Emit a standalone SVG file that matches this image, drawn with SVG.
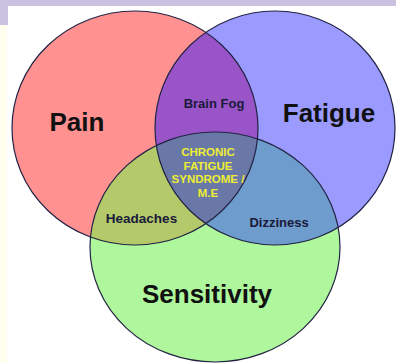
<svg xmlns="http://www.w3.org/2000/svg" width="396" height="363" viewBox="0 0 396 363">
<style>
.big{font-family:"Liberation Sans",Arial,sans-serif;font-weight:bold;font-size:26px;fill:#111;text-anchor:middle}
.mid{font-family:"Liberation Sans",Arial,sans-serif;font-weight:bold;font-size:13px;fill:#1a1a3a;text-anchor:middle}
.cfs{font-family:"Liberation Sans",Arial,sans-serif;font-weight:bold;font-size:11.5px;fill:#eeee33;text-anchor:middle}
.edge{fill:none;stroke:#222244;stroke-width:1.2}
</style>
<defs>
<ellipse id="eR" cx="135" cy="128" rx="123" ry="117"/>
<ellipse id="eB" cx="275" cy="128" rx="120" ry="117"/>
<ellipse id="eG" cx="215" cy="247" rx="125" ry="115"/>
<clipPath id="cR"><use href="#eR"/></clipPath>
<clipPath id="cB"><use href="#eB"/></clipPath>
</defs>
<rect width="396" height="363" fill="#ffffff"/>
<rect x="0" y="0" width="396" height="6" fill="#cac2de"/>
<rect x="0" y="0" width="8" height="25" fill="#cac2de"/>
<rect x="0" y="25" width="7" height="338" fill="#fffff0"/>
<g id="pain">
<use href="#eR" fill="#ff9191"/>
</g>
<g id="fatigue">
<use href="#eB" fill="#9a9aff"/>
</g>
<g id="sensitivity">
<use href="#eG" fill="#aef79c"/>
</g>
<g id="brain-fog">
<use href="#eB" fill="#9955c8" clip-path="url(#cR)"/>
</g>
<g id="headaches">
<use href="#eG" fill="#b3c96a" clip-path="url(#cR)"/>
</g>
<g id="dizziness">
<use href="#eG" fill="#6e9ccc" clip-path="url(#cB)"/>
</g>
<g id="cfs">
<g clip-path="url(#cB)"><use href="#eG" fill="#6a78a8" clip-path="url(#cR)"/></g>
</g>
<g id="connectors">
<use href="#eR" class="edge"/>
<use href="#eB" class="edge"/>
<use href="#eG" class="edge"/>
</g>
<text class="big" x="77" y="131">Pain</text>
<text class="big" x="329" y="122">Fatigue</text>
<text class="big" x="207" y="303">Sensitivity</text>
<text class="mid" x="214" y="108">Brain Fog</text>
<text class="mid" x="141.5" y="223" style="font-size:13.5px">Headaches</text>
<text class="mid" x="279" y="227">Dizziness</text>
<text class="cfs" x="208" y="156">CHRONIC</text>
<text class="cfs" x="208" y="169.5">FATIGUE</text>
<text class="cfs" x="208" y="183">SYNDROME /</text>
<text class="cfs" x="208" y="196.5">M.E</text>
</svg>
